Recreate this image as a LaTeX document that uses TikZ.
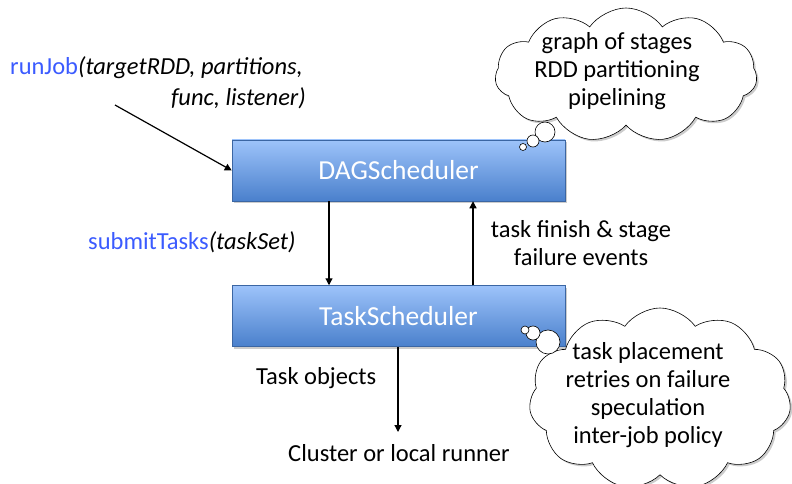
\documentclass[tikz,border=0pt]{standalone}
\usepackage{fontspec}
\setmainfont{Carlito}
\usetikzlibrary{shapes.symbols,shadows,arrows.meta}
\definecolor{boxtop}{HTML}{9DC3FA}
\definecolor{boxbot}{HTML}{4A80CC}
\definecolor{linkblue}{HTML}{3B5BFF}
\begin{document}
\begin{tikzpicture}[x=1pt,y=-1pt,
  sched/.style={draw=boxbot!80!black,line width=0.5pt,top color=boxtop,bottom color=boxbot,
    minimum width=333pt,minimum height=61pt,inner sep=0pt,text=white,font=\fontsize{27.5}{30}\selectfont,
    drop shadow={shadow xshift=2pt,shadow yshift=-2pt,opacity=0.4}},
  lbl/.style={font=\fontsize{24.5}{28}\selectfont,inner sep=0pt,align=center},
  arr/.style={line width=1.2pt,-{Triangle[length=7pt,width=7pt]}},
  thought/.style={cloud,draw,line width=0.6pt,fill=white,cloud puffs=11,cloud puff arc=110,
    drop shadow={shadow xshift=2pt,shadow yshift=-2pt,opacity=0.4}},
  bub/.style={circle,draw,line width=0.6pt,fill=white,inner sep=0pt}]
\useasboundingbox (0,0) rectangle (792,484);
\node[sched] (dag) at (398.5,170.5) {DAGScheduler};
\node[sched] (task) at (398.5,316) {TaskScheduler};
% clouds
\node[thought,minimum width=262pt,minimum height=134pt] (c1) at (626,75) {};
\node[lbl,align=center] (c1t) at (617,71) {graph of stages\\RDD partitioning\\pipelining};
\node[bub,minimum size=20pt] (b13) at (545,132) {};
\node[bub,minimum size=12pt] (b12) at (533,141) {};
\node[bub,minimum size=7pt] (b11) at (523,147) {};
\node[thought,minimum width=262pt,minimum height=182pt] (c2) at (660,399) {};
\node[bub,minimum size=24pt] (b23) at (548,342) {};
\node[bub,minimum size=14pt] (b22) at (533,333) {};
\node[bub,minimum size=8pt] (b21) at (525,330) {};
\node[lbl] (c2t) at (648,395) {task placement\\retries on failure\\speculation\\inter-job policy};
% labels
\node[lbl,anchor=west] (rj1) at (10,68) {\textcolor{linkblue}{runJob}\textit{(targetRDD, partitions,}};
\node[lbl,anchor=east] (rj2) at (306,98) {\textit{func, listener)}};
\coordinate (rjs) at (115,105);
\node[lbl,anchor=west] (st) at (88,242) {\textcolor{linkblue}{submitTasks}\textit{(taskSet)}};
\node[lbl] (tf) at (581,243) {task finish \& stage\\failure events};
\node[lbl,anchor=west] (to) at (256,378) {Task objects};
\node[lbl] (cl) at (399,453) {Cluster or local runner};
\coordinate (clt) at (398,432);
% arrows
\draw[arr] (rjs) -- (dag.west);
\draw[arr] ([xshift=-69.5pt]dag.south) -- ([xshift=-69.5pt]task.north);
\draw[arr] ([xshift=74.5pt]task.north) -- ([xshift=74.5pt]dag.south);
\draw[arr] (task.south -| clt) -- (clt);
\end{tikzpicture}
\end{document}
